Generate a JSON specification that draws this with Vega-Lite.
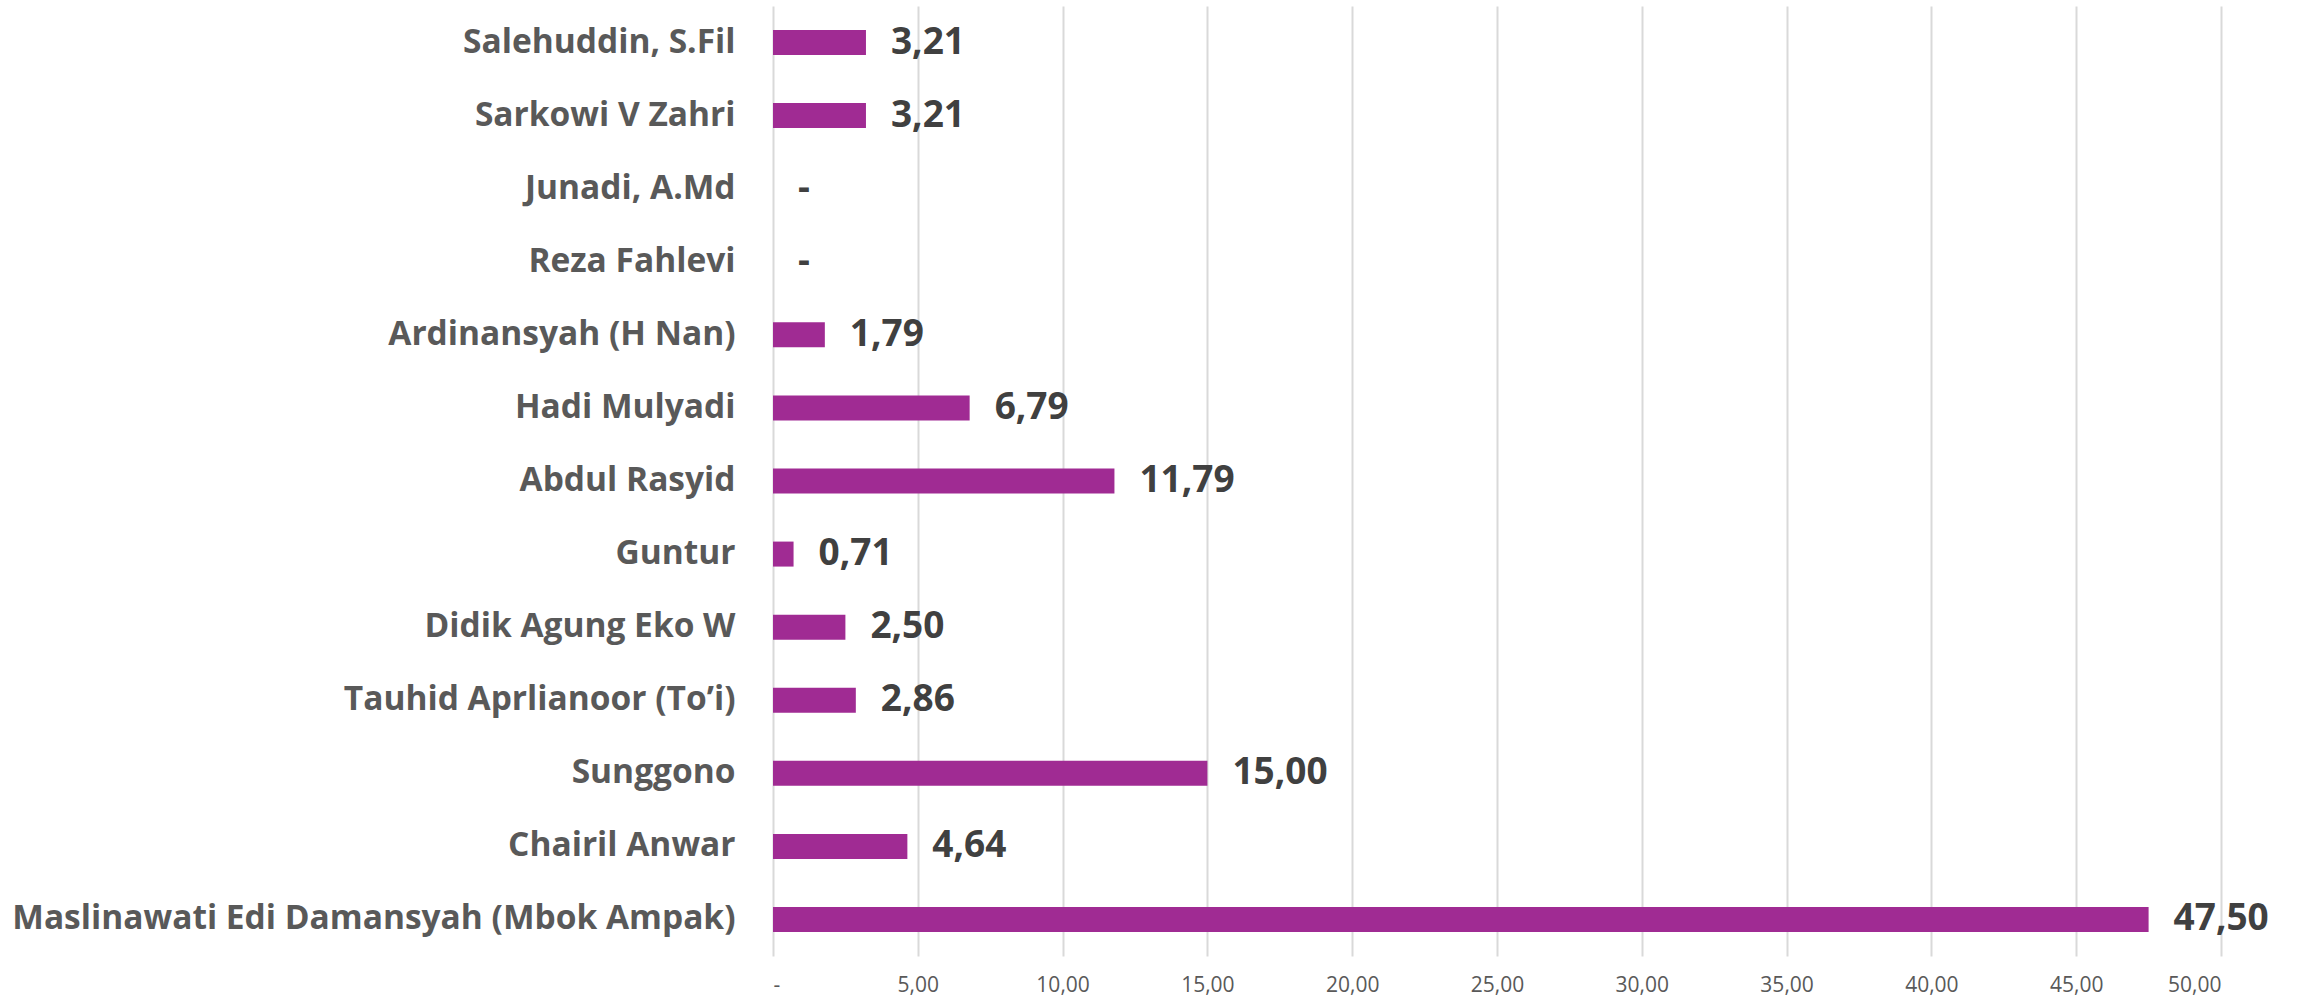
{
  "$schema": "https://vega.github.io/schema/vega-lite/v6.json",
  "autosize": {"type": "none"},
  "padding": {"left": 773, "top": 6, "right": 86, "bottom": 43},
  "width": 1448,
  "height": 950,
  "background": "white",
  "config": {
    "locale": {"number": {"decimal": ",", "thousands": ".", "grouping": [3], "currency": ["Rp", ""]}},
    "view": {"stroke": null},
    "font": "Open Sans"
  },
  "data": {
    "values": [
      {"name": "Salehuddin, S.Fil", "value": 3.21},
      {"name": "Sarkowi V Zahri", "value": 3.21},
      {"name": "Junadi, A.Md", "value": 0},
      {"name": "Reza Fahlevi", "value": 0},
      {"name": "Ardinansyah (H Nan)", "value": 1.79},
      {"name": "Hadi Mulyadi", "value": 6.79},
      {"name": "Abdul Rasyid", "value": 11.79},
      {"name": "Guntur", "value": 0.71},
      {"name": "Didik Agung Eko W", "value": 2.5},
      {"name": "Tauhid Aprlianoor (To’i)", "value": 2.86},
      {"name": "Sunggono", "value": 15.0},
      {"name": "Chairil Anwar", "value": 4.64},
      {"name": "Maslinawati Edi Damansyah (Mbok Ampak)", "value": 47.5}
    ]
  },
  "encoding": {
    "y": {
      "field": "name",
      "type": "nominal",
      "sort": null,
      "scale": {"paddingInner": 0.658, "paddingOuter": 0.329},
      "axis": {
        "title": null,
        "domain": false,
        "ticks": false,
        "grid": false,
        "labelFont": "Open Sans",
        "labelFontWeight": "bold",
        "labelFontSize": 33.5,
        "labelColor": "#595959",
        "labelPadding": 38,
        "labelLimit": 0
      }
    },
    "x": {
      "field": "value",
      "type": "quantitative",
      "scale": {"domain": [0, 50], "nice": false},
      "axis": {
        "title": null,
        "values": [0, 5, 10, 15, 20, 25, 30, 35, 40, 45, 50],
        "format": ".2f",
        "labelExpr": "datum.value == 0 ? '-' : datum.label",
        "domain": false,
        "ticks": false,
        "grid": true,
        "gridColor": "#d9d9d9",
        "gridWidth": 2,
        "labelFont": "Open Sans",
        "labelFontSize": 21,
        "labelColor": "#595959",
        "labelPadding": 18
      }
    }
  },
  "layer": [
    {
      "mark": {"type": "bar", "color": "#A02B93"}
    },
    {
      "mark": {"type": "text", "align": "left", "baseline": "middle", "dx": 25, "font": "Open Sans", "fontWeight": "bold", "fontSize": 37, "color": "#404040"},
      "encoding": {
        "text": {
          "condition": {"test": "datum.value == 0", "value": "-"},
          "field": "value",
          "type": "quantitative",
          "format": ".2f"
        }
      }
    }
  ]
}
